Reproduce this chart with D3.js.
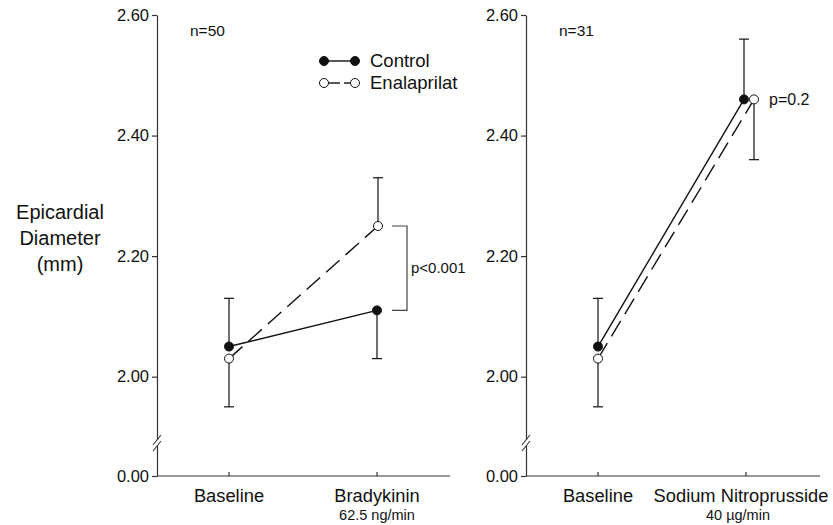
<!DOCTYPE html>
<html>
<head>
<meta charset="utf-8">
<script src="https://cdn.jsdelivr.net/npm/d3@7"></script>
<style>
  body { margin: 0; background: #fff; }
  svg { font-family: "Liberation Sans", Arial, sans-serif; }
  .axis path, .axis line { stroke: #333; stroke-width: 1.2; }
  .axis text { font-size: 16.5px; fill: #111; }
</style>
</head>
<body>
<div id="chart"></div>
<script>
// ---- data ----
var leftConditions = ["Baseline", "Bradykinin"];
var leftDoses = ["", "62.5 ng/min"];
var leftControl = [2.05, 2.11];
var leftControlErr = [0.08, 0.08];
var leftEnalaprilat = [2.03, 2.25];
var leftEnalaprilatErr = [0.08, 0.08];

var rightConditions = ["Baseline", "Sodium Nitroprusside"];
var rightDoses = ["", "40 \u00b5g/min"];
var rightControl = [2.05, 2.46];
var rightControlErr = [0.08, 0.10];
var rightEnalaprilat = [2.03, 2.46];
var rightEnalaprilatErr = [0.08, 0.10];

var yTicks = [0, 2.0, 2.2, 2.4, 2.6];
var seriesNames = ["Control", "Enalaprilat"];

var width = 833, height = 525;

var svg = d3.select("#chart").append("svg")
    .attr("width", width)
    .attr("height", height);

// broken y scale: 0 at bottom, linear from the break (1.89) up to 2.6
var y = d3.scaleLinear().domain([0, 1.89, 2.6]).range([476, 443, 15]);

// y title
var ytitle = svg.append("text")
    .attr("text-anchor", "middle")
    .style("font-size", "20px")
    .attr("fill", "#111");
["Epicardial", "Diameter", "(mm)"].forEach(function(t, i) {
  ytitle.append("tspan").attr("x", 60).attr("y", 219 + i * 26).text(t);
});

function drawPanel(opts) {
  var left = opts.left, right = opts.right;
  var x = d3.scaleLinear().domain([0, 1]).range([left + 72, left + 220]);
  var g = svg.append("g");

  // y axis
  g.append("g")
      .attr("class", "axis")
      .attr("transform", "translate(" + left + ",0)")
      .call(d3.axisLeft(y).tickValues(yTicks).tickFormat(d3.format(".2f")).tickSize(5).tickSizeOuter(0).tickPadding(3));

  // x axis line with inward ticks
  g.append("line").attr("class", "xdom")
      .attr("x1", left).attr("x2", right)
      .attr("y1", y(0)).attr("y2", y(0))
      .attr("stroke", "#333").attr("stroke-width", 1.2);
  g.selectAll("line.xtick").data(opts.conditions).enter().append("line")
      .attr("class", "xtick")
      .attr("x1", function(d, i) { return x(i); })
      .attr("x2", function(d, i) { return x(i); })
      .attr("y1", y(0)).attr("y2", y(0) - 4)
      .attr("stroke", "#333").attr("stroke-width", 1.2);

  // axis break
  var by = 443;
  g.append("rect").attr("x", left - 3).attr("y", by - 3).attr("width", 6).attr("height", 6).attr("fill", "#fff");
  [-3, 3].forEach(function(o) {
    g.append("line")
        .attr("x1", left - 4).attr("y1", by + o + 5)
        .attr("x2", left + 4).attr("y2", by + o - 5)
        .attr("stroke", "#333").attr("stroke-width", 1.1);
  });

  // category labels
  g.selectAll("text.cat").data(opts.conditions).enter().append("text")
      .attr("class", "cat")
      .attr("x", function(d, i) { return x(i) + (opts.catShift[i] || 0); })
      .attr("y", 502)
      .attr("text-anchor", "middle")
      .style("font-size", "18.3px")
      .attr("fill", "#111")
      .text(function(d) { return d; });
  g.selectAll("text.dose").data(opts.doses).enter().append("text")
      .attr("class", "dose")
      .attr("x", function(d, i) { return x(i) + (opts.doseShift[i] || 0); })
      .attr("y", 520)
      .attr("text-anchor", "middle")
      .style("font-size", "14.5px")
      .attr("fill", "#111")
      .text(function(d) { return d; });

  // n label
  g.append("text")
      .attr("x", left + 33).attr("y", 36)
      .style("font-size", "15.5px").attr("fill", "#111")
      .text(opts.n);

  var series = [
    {name: "Control", vals: opts.control, err: opts.controlErr, dx: opts.controlDx, filled: true, dash: null},
    {name: "Enalaprilat", vals: opts.enalaprilat, err: opts.enalaprilatErr, dx: opts.enalaprilatDx, filled: false, dash: "18,8"}
  ];

  var line = d3.line()
      .x(function(d) { return d.x; })
      .y(function(d) { return y(d.v); });

  series.forEach(function(s) {
    s.points = s.vals.map(function(v, i) { return {x: x(i) + s.dx[i], v: v, i: i}; });
  });

  // lines
  series.forEach(function(s) {
    g.append("path")
        .attr("d", line(s.points))
        .attr("fill", "none")
        .attr("stroke", "#111")
        .attr("stroke-width", 1.4)
        .attr("stroke-dasharray", s.dash);
  });

  // error bars: upper series goes up, lower goes down
  series.forEach(function(s, si) {
    var other = series[1 - si];
    s.points.forEach(function(p, i) {
      var up = si === 0 ? s.vals[i] >= other.vals[i] : s.vals[i] > other.vals[i];
      var end = up ? p.v + s.err[i] : p.v - s.err[i];
      g.append("line")
          .attr("x1", p.x).attr("x2", p.x)
          .attr("y1", y(p.v)).attr("y2", y(end))
          .attr("stroke", "#111").attr("stroke-width", 1.2);
      g.append("line")
          .attr("x1", p.x - 5).attr("x2", p.x + 5)
          .attr("y1", y(end)).attr("y2", y(end))
          .attr("stroke", "#111").attr("stroke-width", 1.2);
    });
  });

  // markers
  series.slice().reverse().forEach(function(s) {
    g.selectAll(null).data(s.points).enter().append("circle")
        .attr("cx", function(d) { return d.x; })
        .attr("cy", function(d) { return y(d.v); })
        .attr("r", 4.5)
        .attr("fill", s.filled ? "#111" : "#fff")
        .attr("stroke", "#111")
        .attr("stroke-width", 1);
  });

  return {g: g, x: x, series: series};
}

var p1 = drawPanel({
  left: 157, right: 450, n: "n=50",
  conditions: leftConditions, doses: leftDoses, catShift: [0, 0], doseShift: [0, 0],
  control: leftControl, controlErr: leftControlErr, controlDx: [0, 0],
  enalaprilat: leftEnalaprilat, enalaprilatErr: leftEnalaprilatErr, enalaprilatDx: [0, 1]
});

var p2 = drawPanel({
  left: 526, right: 820, n: "n=31",
  conditions: rightConditions, doses: rightDoses, catShift: [0, -5], doseShift: [0, -8],
  control: rightControl, controlErr: rightControlErr, controlDx: [0, -2],
  enalaprilat: rightEnalaprilat, enalaprilatErr: rightEnalaprilatErr, enalaprilatDx: [0, 8]
});

// p<0.001 bracket
var bx = p1.x(1);
var yTop = y(leftEnalaprilat[1]), yBot = y(leftControl[1]);
p1.g.append("path")
    .attr("d", "M" + (bx + 15) + "," + yTop + "H" + (bx + 30) + "V" + yBot + "H" + (bx + 15))
    .attr("fill", "none").attr("stroke", "#444").attr("stroke-width", 1.2);
p1.g.append("text")
    .attr("x", bx + 34).attr("y", (yTop + yBot) / 2 + 5)
    .style("font-size", "15px").attr("fill", "#111")
    .text("p<0.001");

// p=0.2
p2.g.append("text")
    .attr("x", p2.x(1) + 23).attr("y", y(rightEnalaprilat[1]) + 6)
    .style("font-size", "16px").attr("fill", "#111")
    .text("p=0.2");

// legend
var legend = svg.append("g").attr("transform", "translate(324,61)");
seriesNames.forEach(function(name, i) {
  var row = legend.append("g").attr("transform", "translate(0," + (i * 22) + ")");
  if (i === 0) {
    row.append("line").attr("x1", 0).attr("x2", 31).attr("stroke", "#111").attr("stroke-width", 1.4);
  } else {
    row.append("line").attr("x1", 4).attr("x2", 16).attr("stroke", "#111").attr("stroke-width", 1.4);
    row.append("line").attr("x1", 20).attr("x2", 26).attr("stroke", "#111").attr("stroke-width", 1.4);
  }
  [0, 31].forEach(function(cx) {
    row.append("circle").attr("cx", cx).attr("r", 4.5)
        .attr("fill", i === 0 ? "#111" : "#fff")
        .attr("stroke", "#111").attr("stroke-width", 1);
  });
  row.append("text").attr("x", 46).attr("y", 6)
      .style("font-size", "18.5px").attr("fill", "#111")
      .text(name);
});
</script>
</body>
</html>
